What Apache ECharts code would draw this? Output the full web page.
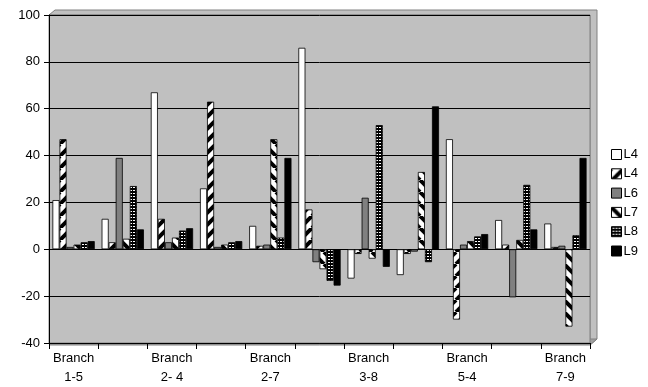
<!DOCTYPE html>
<html><head><meta charset="utf-8">
<script src="https://cdn.jsdelivr.net/npm/echarts@6/dist/echarts.min.js"></script>
<style>html,body{margin:0;padding:0;background:#fff}#c{width:648px;height:387px}</style>
</head><body><div id="c"></div>
<script>
var categories = ["Branch 1-5","Branch 2-3","Branch 2- 4","Branch 2-5","Branch 2-7","Branch 3-6","Branch 3-8","Branch 4-6","Branch 5-4","Branch 6-9","Branch 7-9"];
var seriesNames = ["L4","L4","L6","L7","L8","L9"];
var L4a = [21, 13, 67, 26, 10, 86, -12.5, -11, 47, 12.5, 11];
var L4b = [47, 3, 13, 63, 1.5, 17, -2, -2, -30, 2, 1];
var L6  = [1, 39, 3, 1, 2, -5.5, 22, -1, 2, -20.5, 1.5];
var L7  = [2, 4.5, 5, 2, 47, -8.5, -4, 33, 3.5, 4, -33];
var L8  = [3, 27, 8, 3, 5, -13.5, 53, -5.5, 5.5, 27.5, 6];
var L9  = [3.5, 8.5, 9, 3.5, 39, -15.5, -7.5, 61, 6.5, 8.5, 39];
var yTicks = {min: -40, max: 100, interval: 20};

function mk(w, h, draw) {
  var c = document.createElement('canvas'); c.width = w; c.height = h;
  var g = c.getContext('2d'); draw(g, w, h); return c;
}
function stripes(dir) {
  return mk(12, 12, function (g, w, h) {
    g.fillStyle = '#fff'; g.fillRect(0, 0, w, h);
    g.strokeStyle = '#000'; g.lineWidth = 4;
    for (var k = -1; k <= 1; k++) {
      g.beginPath();
      if (dir > 0) { g.moveTo(k * w, h); g.lineTo(k * w + w, 0); }
      else { g.moveTo(k * w, 0); g.lineTo(k * w + w, h); }
      g.stroke();
    }
  });
}
var patSlash = stripes(1), patBack = stripes(-1);
var patCheck = mk(3, 3, function (g, w, h) {
  g.fillStyle = '#000'; g.fillRect(0, 0, w, h);
  g.fillStyle = '#fff'; g.fillRect(1, 1, 2, 1);
});
var fills = ['#ffffff', {image: patSlash, repeat: 'repeat'}, '#808080',
  {image: patBack, repeat: 'repeat'}, {image: patCheck, repeat: 'repeat'}, '#000000'];
var data = [L4a, L4b, L6, L7, L8, L9];

var chart = echarts.init(document.getElementById('c'), null, {renderer: 'canvas'});
var font = 'Liberation Sans, Arial, sans-serif';
chart.setOption({
  animation: false,
  backgroundColor: '#ffffff',
  graphic: [{
    type: 'polygon', z: -10, silent: true,
    shape: {points: [[49, 15], [55, 10], [597, 10], [597, 339], [590, 345], [590, 15]]},
    style: {fill: '#c0c0c0', stroke: '#808080', lineWidth: 1}
  }, {
    type: 'polygon', z: -9, silent: true,
    shape: {points: [[49, 345], [55, 339], [597, 339], [590, 345]]},
    style: {fill: '#a0a0a0', stroke: '#808080', lineWidth: 1}
  }],
  grid: {left: 49, right: 58, top: 15, bottom: 42, show: true,
    backgroundColor: '#c0c0c0', borderColor: '#808080', borderWidth: 1},
  legend: {
    orient: 'vertical', left: 606, top: 143, itemWidth: 10, itemHeight: 10,
    itemGap: 6.3, icon: 'rect',
    textStyle: {fontFamily: font, fontSize: 13, color: '#000', padding: [0, 0, 0, -3]},
    data: seriesNames.map(function (n, i) { return {name: n + (i === 1 ? ' ' : ''), itemStyle: {borderColor: '#000', borderWidth: 1}}; }),
    formatter: function (n) { return n.trim(); }
  },
  xAxis: {
    type: 'category', data: categories, position: 'bottom',
    axisLine: {onZero: false, lineStyle: {color: '#000', width: 1}},
    axisTick: {show: true, interval: 0, length: 6, lineStyle: {color: '#000'}},
    axisLabel: {interval: 1, margin: 6, color: '#000', fontFamily: font, fontSize: 13, lineHeight: 19,
      formatter: function (v) { return v.replace(' ', '\n'); }},
    splitLine: {show: false}
  },
  yAxis: {
    type: 'value', min: yTicks.min, max: yTicks.max, interval: yTicks.interval,
    axisLine: {show: true, lineStyle: {color: '#000'}},
    axisTick: {show: true, length: 5, lineStyle: {color: '#000'}},
    axisLabel: {color: '#000', fontFamily: font, fontSize: 13, margin: 9},
    splitLine: {show: true, lineStyle: {color: '#000', width: 1}}
  },
  series: data.map(function (d, i) {
    return {
      name: seriesNames[i] + (i === 1 ? ' ' : ''), type: 'bar', data: d,
      barGap: '0%', barCategoryGap: '14%',
      itemStyle: {color: fills[i], borderColor: '#000', borderWidth: 0.8}
    };
  })
});
</script></body></html>
